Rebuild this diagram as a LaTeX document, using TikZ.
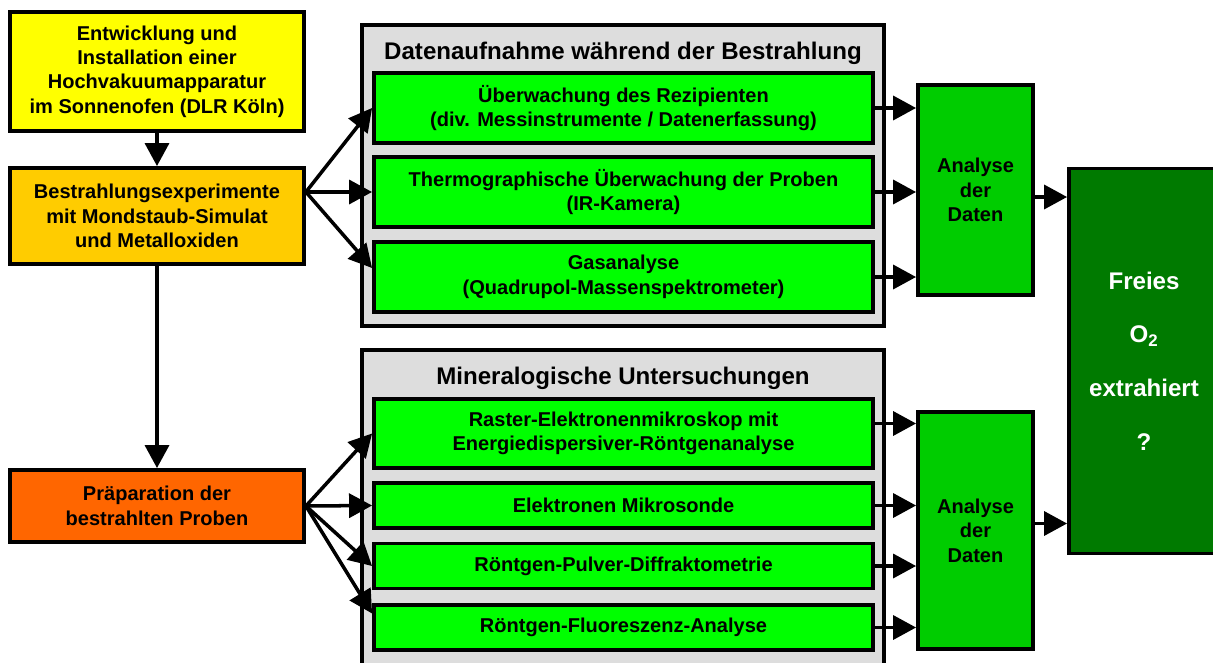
\documentclass[tikz,border=0pt]{standalone}
\usepackage{fontspec}
\setmainfont{Liberation Sans}
\usetikzlibrary{arrows.meta,calc}
\definecolor{sunyellow}{HTML}{FFFF00}
\definecolor{gold}{HTML}{FFCC00}
\definecolor{deeporange}{HTML}{FF6600}
\definecolor{panelgray}{HTML}{DDDDDD}
\definecolor{brightgreen}{HTML}{00FF00}
\definecolor{midgreen}{HTML}{00CC00}
\definecolor{darkgreen}{HTML}{007A00}
\tikzset{
  body/.style={font=\bfseries\fontsize{11.4}{13.9}\selectfont,text=black,align=center},
  heading/.style={font=\bfseries\fontsize{13.7}{16}\selectfont,text=black},
  stage/.style={body,draw=black,line width=2.2pt,minimum width=5.88cm,inner sep=0pt},
  panel/.style={draw=black,fill=panelgray,line width=2.2pt,minimum width=10.44cm,inner sep=0pt},
  method/.style={body,draw=black,fill=brightgreen,line width=2.2pt,minimum width=9.98cm,inner sep=0pt},
  analysis/.style={body,draw=black,fill=midgreen,line width=2.2pt,minimum width=2.3cm,inner sep=0pt},
  result/.style={font=\bfseries\fontsize{13.7}{30.5}\selectfont,text=white,align=center,draw=black,fill=darkgreen,line width=2.2pt,minimum width=3cm,inner sep=0pt},
  arr/.style={-{Triangle[length=0.46cm,width=0.48cm]},draw=black,line width=2pt}
}
\begin{document}
\begin{tikzpicture}[x=1cm,y=1cm]
\path[use as bounding box] (0,0) rectangle (24.26,13.24);
\node[stage,fill=sunyellow,minimum height=2.38cm] (entw) at (3.14,11.81) {Entwicklung und\\Installation einer\\Hochvakuumapparatur\\im Sonnenofen (DLR Köln)};
\node[stage,fill=gold,minimum height=1.92cm] (bestr) at (3.14,8.92) {Bestrahlungsexperimente\\mit Mondstaub-Simulat\\und Metalloxiden};
\node[stage,fill=deeporange,minimum height=1.44cm] (prep) at (3.14,3.12) {Präparation der\\bestrahlten Proben};
\node[panel,minimum height=6.02cm] (daten) at (12.46,9.73) {};
\node[heading] (datentitel) at (12.46,12.17) {Datenaufnahme während der Bestrahlung};
\node[method,minimum height=1.4cm] (dg1) at (12.47,11.08) {Überwachung des Rezipienten\\(div. Messinstrumente / Datenerfassung)};
\node[method,minimum height=1.4cm] (dg2) at (12.47,9.4) {Thermographische Überwachung der Proben\\(IR-Kamera)};
\node[method,minimum height=1.4cm] (dg3) at (12.47,7.7) {Gasanalyse\\(Quadrupol-Massenspektrometer)};
\node[panel,minimum height=6.6cm] (mineral) at (12.46,2.94) {};
\node[heading] (mineraltitel) at (12.46,5.68) {Mineralogische Untersuchungen};
\node[method,minimum height=1.38cm] (mb1) at (12.47,4.57) {Raster-Elektronenmikroskop mit\\Energiedispersiver-Röntgenanalyse};
\node[method,minimum height=0.9cm] (mb2) at (12.47,3.13) {Elektronen Mikrosonde};
\node[method,minimum height=0.9cm] (mb3) at (12.47,1.92) {Röntgen-Pulver-Diffraktometrie};
\node[method,minimum height=0.9cm] (mb4) at (12.47,0.69) {Röntgen-Fluoreszenz-Analyse};
\node[analysis,minimum height=4.2cm] (an1) at (19.51,9.44) {Analyse\\der\\Daten};
\node[analysis,minimum height=4.74cm] (an2) at (19.51,2.63) {Analyse\\der\\Daten};
\node[result,minimum height=7.7cm] (fr) at (22.88,6.02) {Freies\\O\textsubscript{2}\\extrahiert\\?};
\draw[arr] (entw) -- (bestr);
\draw[arr] (bestr) -- (prep);
\coordinate (fanA) at (bestr.east |- dg2.west);
\foreach \t/\s in {dg1/0cm,dg2/0cm,dg3/0.18cm} \draw[arr] (fanA) -- ([yshift=\s]\t.west);
\foreach \t/\s in {mb1/0cm,mb2/0cm,mb3/0cm,mb4/0.28cm} \draw[arr] (prep.east) -- ([yshift=\s]\t.west);
\foreach \t in {dg1,dg2,dg3} \draw[arr] (\t.east) -- (\t.east -| an1.west);
\foreach \t/\s in {mb1/0.2cm,mb2/0cm,mb3/0cm,mb4/0cm} \draw[arr] ([yshift=\s]\t.east) -- ([yshift=\s]\t.east -| an2.west);
\draw[arr] ([yshift=-0.14cm]an1.east) -- ([yshift=-0.14cm]an1.east -| fr.west);
\draw[arr] ([yshift=0.14cm]an2.east) -- ([yshift=0.14cm]an2.east -| fr.west);
\end{tikzpicture}
\end{document}
